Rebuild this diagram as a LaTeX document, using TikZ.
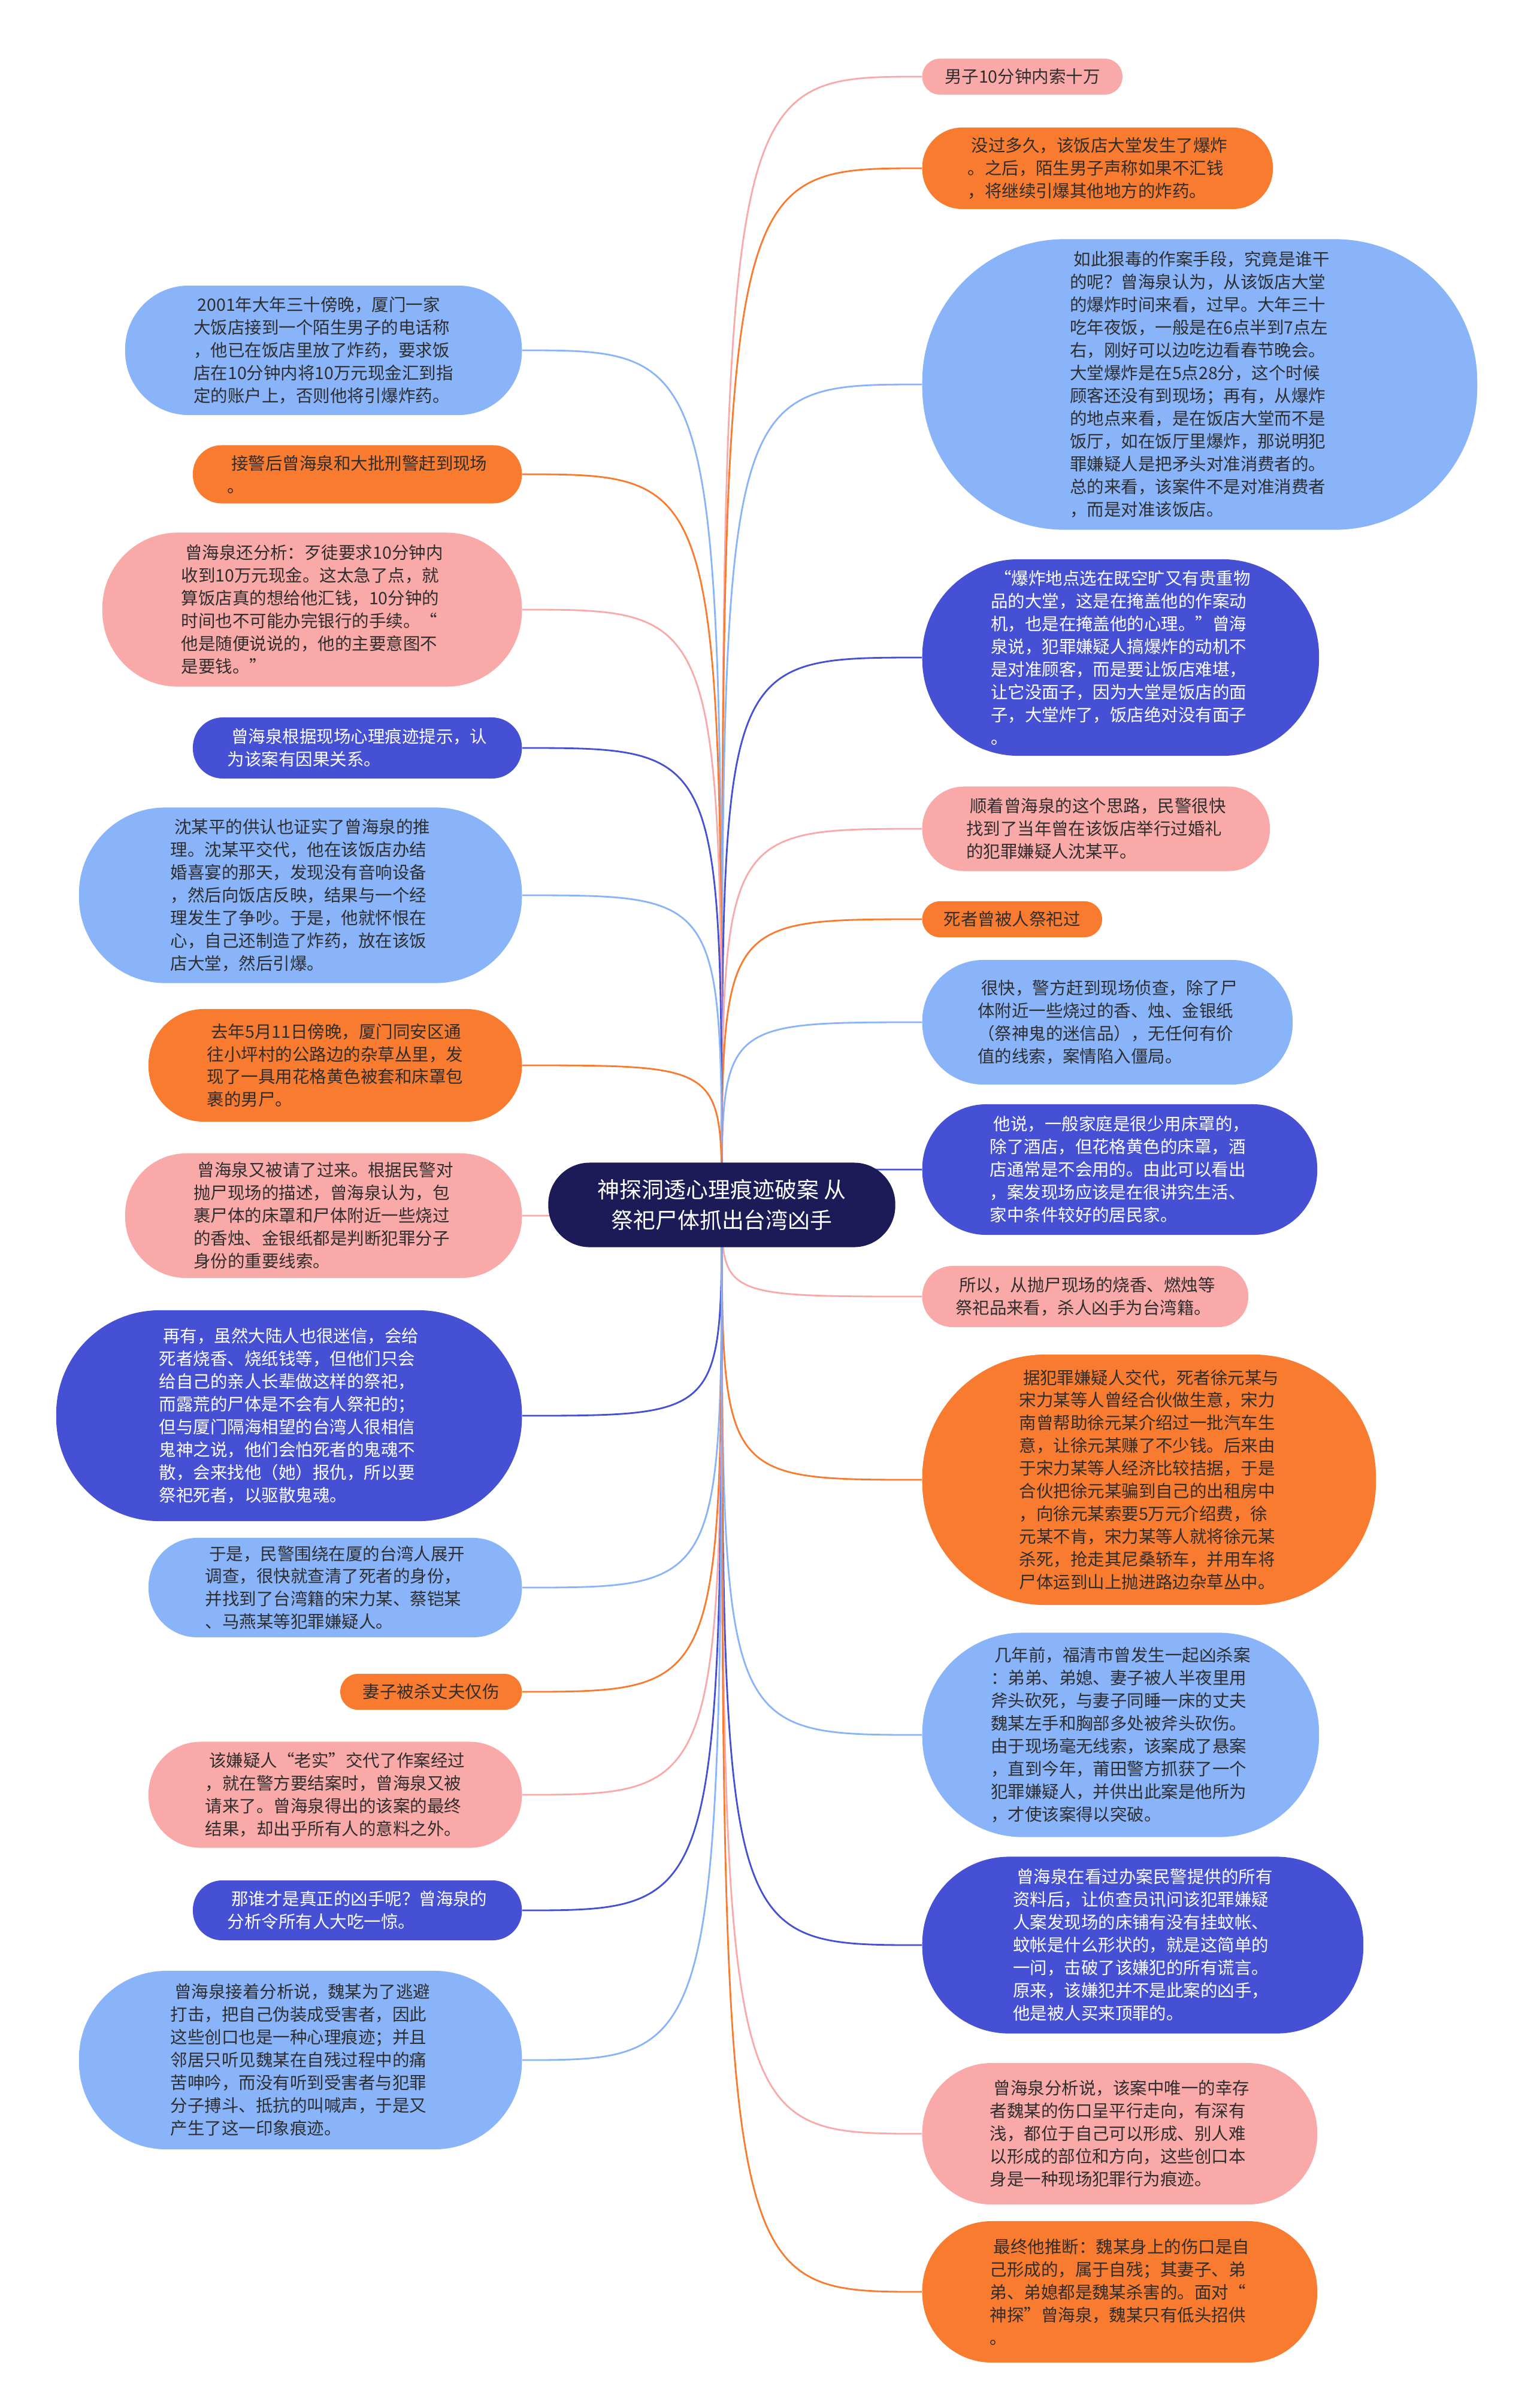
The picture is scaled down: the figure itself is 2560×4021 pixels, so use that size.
\documentclass[tikz,border=0pt]{standalone}
\usepackage{fontspec}
\setmainfont{Noto Sans CJK SC}
\usepackage{xcolor}
\usetikzlibrary{positioning,backgrounds}
\definecolor{navy}{HTML}{1C1B57}
\definecolor{petal}{HTML}{FAA9A9}
\definecolor{amber}{HTML}{F97B30}
\definecolor{sky}{HTML}{8AB4FA}
\definecolor{indigo}{HTML}{4550D5}
\definecolor{ink}{HTML}{2E2E2E}
\newcommand{\leaffont}{\fontsize{8.1}{10.8}\selectfont}
\newcommand{\rootfont}{\fontsize{10.5}{14.5}\selectfont}

\begin{document}
\begin{tikzpicture}[
    x=0.01cm, y=-0.01cm,
    pill/.style 2 args={rectangle, rounded corners=0.49*#2, minimum width=#1, minimum height=#2, inner sep=2pt, align=left, font=\leaffont, text=ink},
    pinkbox/.style={fill=petal},
    orangebox/.style={fill=amber},
    bluebox/.style={fill=sky},
    indigobox/.style={fill=indigo, text=white},
    rootbox/.style={rectangle, fill=navy, text=white, rounded corners=0.49*1.41cm, minimum width=5.79cm, minimum height=1.41cm, align=center, font=\rootfont},
    link/.style={draw=#1, line width=0.8pt}
]
    \useasboundingbox (0,0) rectangle (2560,4021);

    % centre
    \node[rootbox] (root) at (1205,2012) {神探洞透心理痕迹破案 从\\祭祀尸体抓出台湾凶手};

    % right branch
    \node[pill={3.34cm}{0.60cm}, pinkbox, anchor=west] (r1) at (1539,128) {男子10分钟内索十万};
    \node[pill={5.85cm}{1.36cm}, orangebox, anchor=west] (r2) at (1539,281) {\ 没过多久，该饭店大堂发生了爆炸\\。之后，陌生男子声称如果不汇钱\\，将继续引爆其他地方的炸药。};
    \node[pill={9.26cm}{4.85cm}, bluebox, anchor=west] (r3) at (1539,642) {\ 如此狠毒的作案手段，究竟是谁干\\的呢？曾海泉认为，从该饭店大堂\\的爆炸时间来看，过早。大年三十\\吃年夜饭，一般是在6点半到7点左\\右，刚好可以边吃边看春节晚会。\\大堂爆炸是在5点28分，这个时候\\顾客还没有到现场；再有，从爆炸\\的地点来看，是在饭店大堂而不是\\饭厅，如在饭厅里爆炸，那说明犯\\罪嫌疑人是把矛头对准消费者的。\\总的来看，该案件不是对准消费者\\，而是对准该饭店。};
    \node[pill={6.62cm}{3.28cm}, indigobox, anchor=west] (r4) at (1539,1098) {\ “爆炸地点选在既空旷又有贵重物\\品的大堂，这是在掩盖他的作案动\\机，也是在掩盖他的心理。”曾海\\泉说，犯罪嫌疑人搞爆炸的动机不\\是对准顾客，而是要让饭店难堪，\\让它没面子，因为大堂是饭店的面\\子，大堂炸了，饭店绝对没有面子\\。};
    \node[pill={5.80cm}{1.41cm}, pinkbox, anchor=west] (r5) at (1539,1384) {\ 顺着曾海泉的这个思路，民警很快\\找到了当年曾在该饭店举行过婚礼\\的犯罪嫌疑人沈某平。};
    \node[pill={3.00cm}{0.60cm}, orangebox, anchor=west] (r6) at (1539,1535) {死者曾被人祭祀过};
    \node[pill={6.18cm}{2.08cm}, bluebox, anchor=west] (r7) at (1539,1707) {\ 很快，警方赶到现场侦查，除了尸\\体附近一些烧过的香、烛、金银纸\\（祭神鬼的迷信品），无任何有价\\值的线索，案情陷入僵局。};
    \node[pill={6.59cm}{2.18cm}, indigobox, anchor=west] (r8) at (1539,1953) {\ 他说，一般家庭是很少用床罩的，\\除了酒店，但花格黄色的床罩，酒\\店通常是不会用的。由此可以看出\\，案发现场应该是在很讲究生活、\\家中条件较好的居民家。};
    \node[pill={5.44cm}{1.02cm}, pinkbox, anchor=west] (r9) at (1539,2165) {\ 所以，从抛尸现场的烧香、燃烛等\\祭祀品来看，杀人凶手为台湾籍。};
    \node[pill={7.57cm}{4.18cm}, orangebox, anchor=west] (r10) at (1539,2471) {\ 据犯罪嫌疑人交代，死者徐元某与\\宋力某等人曾经合伙做生意，宋力\\南曾帮助徐元某介绍过一批汽车生\\意，让徐元某赚了不少钱。后来由\\于宋力某等人经济比较拮据，于是\\合伙把徐元某骗到自己的出租房中\\，向徐元某索要5万元介绍费，徐\\元某不肯，宋力某等人就将徐元某\\杀死，抢走其尼桑轿车，并用车将\\尸体运到山上抛进路边杂草丛中。};
    \node[pill={6.62cm}{3.41cm}, bluebox, anchor=west] (r11) at (1539,2897) {\ 几年前，福清市曾发生一起凶杀案\\：弟弟、弟媳、妻子被人半夜里用\\斧头砍死，与妻子同睡一床的丈夫\\魏某左手和胸部多处被斧头砍伤。\\由于现场毫无线索，该案成了悬案\\，直到今年，莆田警方抓获了一个\\犯罪嫌疑人，并供出此案是他所为\\，才使该案得以突破。};
    \node[pill={7.36cm}{2.95cm}, indigobox, anchor=west] (r12) at (1539,3248) {\ 曾海泉在看过办案民警提供的所有\\资料后，让侦查员讯问该犯罪嫌疑\\人案发现场的床铺有没有挂蚊帐、\\蚊帐是什么形状的，就是这简单的\\一问，击破了该嫌犯的所有谎言。\\原来，该嫌犯并不是此案的凶手，\\他是被人买来顶罪的。};
    \node[pill={6.59cm}{2.36cm}, pinkbox, anchor=west] (r13) at (1539,3563) {\ 曾海泉分析说，该案中唯一的幸存\\者魏某的伤口呈平行走向，有深有\\浅，都位于自己可以形成、别人难\\以形成的部位和方向，这些创口本\\身是一种现场犯罪行为痕迹。};
    \node[pill={6.59cm}{2.36cm}, orangebox, anchor=west] (r14) at (1539,3827) {\ 最终他推断：魏某身上的伤口是自\\己形成的，属于自残；其妻子、弟\\弟、弟媳都是魏某杀害的。面对“\\神探”曾海泉，魏某只有低头招供\\。};

    % left branch
    \node[pill={6.62cm}{2.16cm}, bluebox, anchor=east] (l1) at (872,585) {\ 2001年大年三十傍晚，厦门一家\\大饭店接到一个陌生男子的电话称\\，他已在饭店里放了炸药，要求饭\\店在10分钟内将10万元现金汇到指\\定的账户上，否则他将引爆炸药。};
    \node[pill={5.49cm}{0.97cm}, orangebox, anchor=east] (l2) at (872,792) {\ 接警后曾海泉和大批刑警赶到现场\\。};
    \node[pill={7.00cm}{2.57cm}, pinkbox, anchor=east] (l3) at (872,1018) {\ 曾海泉还分析：歹徒要求10分钟内\\收到10万元现金。这太急了点，就\\算饭店真的想给他汇钱，10分钟的\\时间也不可能办完银行的手续。“\\他是随便说说的，他的主要意图不\\是要钱。”};
    \node[pill={5.49cm}{1.02cm}, indigobox, anchor=east] (l4) at (872,1249) {\ 曾海泉根据现场心理痕迹提示，认\\为该案有因果关系。};
    \node[pill={7.39cm}{2.93cm}, bluebox, anchor=east] (l5) at (872,1495) {\ 沈某平的供认也证实了曾海泉的推\\理。沈某平交代，他在该饭店办结\\婚喜宴的那天，发现没有音响设备\\，然后向饭店反映，结果与一个经\\理发生了争吵。于是，他就怀恨在\\心，自己还制造了炸药，放在该饭\\店大堂，然后引爆。};
    \node[pill={6.23cm}{1.88cm}, orangebox, anchor=east] (l6) at (872,1779) {\ 去年5月11日傍晚，厦门同安区通\\往小坪村的公路边的杂草丛里，发\\现了一具用花格黄色被套和床罩包\\裹的男尸。};
    \node[pill={6.62cm}{2.08cm}, pinkbox, anchor=east] (l7) at (872,2030) {\ 曾海泉又被请了过来。根据民警对\\抛尸现场的描述，曾海泉认为，包\\裹尸体的床罩和尸体附近一些烧过\\的香烛、金银纸都是判断犯罪分子\\身份的重要线索。};
    \node[pill={7.77cm}{3.52cm}, indigobox, anchor=east] (l8) at (872,2364) {\ 再有，虽然大陆人也很迷信，会给\\死者烧香、烧纸钱等，但他们只会\\给自己的亲人长辈做这样的祭祀，\\而露荒的尸体是不会有人祭祀的；\\但与厦门隔海相望的台湾人很相信\\鬼神之说，他们会怕死者的鬼魂不\\散，会来找他（她）报仇，所以要\\祭祀死者，以驱散鬼魂。};
    \node[pill={6.23cm}{1.66cm}, bluebox, anchor=east] (l9) at (872,2651) {\ 于是，民警围绕在厦的台湾人展开\\调查，很快就查清了死者的身份，\\并找到了台湾籍的宋力某、蔡铠某\\、马燕某等犯罪嫌疑人。};
    \node[pill={3.03cm}{0.60cm}, orangebox, anchor=east] (l10) at (872,2825) {妻子被杀丈夫仅伤};
    \node[pill={6.23cm}{1.77cm}, pinkbox, anchor=east] (l11) at (872,2997) {\ 该嫌疑人“老实”交代了作案经过\\，就在警方要结案时，曾海泉又被\\请来了。曾海泉得出的该案的最终\\结果，却出乎所有人的意料之外。};
    \node[pill={5.49cm}{1.00cm}, indigobox, anchor=east] (l12) at (872,3190) {\ 那谁才是真正的凶手呢？曾海泉的\\分析令所有人大吃一惊。};
    \node[pill={7.39cm}{2.98cm}, bluebox, anchor=east] (l13) at (872,3440) {\ 曾海泉接着分析说，魏某为了逃避\\打击，把自己伪装成受害者，因此\\这些创口也是一种心理痕迹；并且\\邻居只听见魏某在自残过程中的痛\\苦呻吟，而没有听到受害者与犯罪\\分子搏斗、抵抗的叫喊声，于是又\\产生了这一印象痕迹。};

    % branches
    \begin{scope}[on background layer]
        \foreach \n/\c in {r1/petal, r2/amber, r3/sky, r4/indigo, r5/petal, r6/amber, r7/sky, r8/indigo, r9/petal, r10/amber, r11/sky, r12/indigo, r13/petal, r14/amber}
            \draw[link=\c] (root.center) .. controls (root.center |- \n.west) .. (\n.west);
        \foreach \n/\c in {l1/sky, l2/amber, l3/petal, l4/indigo, l5/sky, l6/amber, l7/petal, l8/indigo, l9/sky, l10/amber, l11/petal, l12/indigo, l13/sky}
            \draw[link=\c] (root.center) .. controls (root.center |- \n.east) .. (\n.east);
    \end{scope}
\end{tikzpicture}
\end{document}
